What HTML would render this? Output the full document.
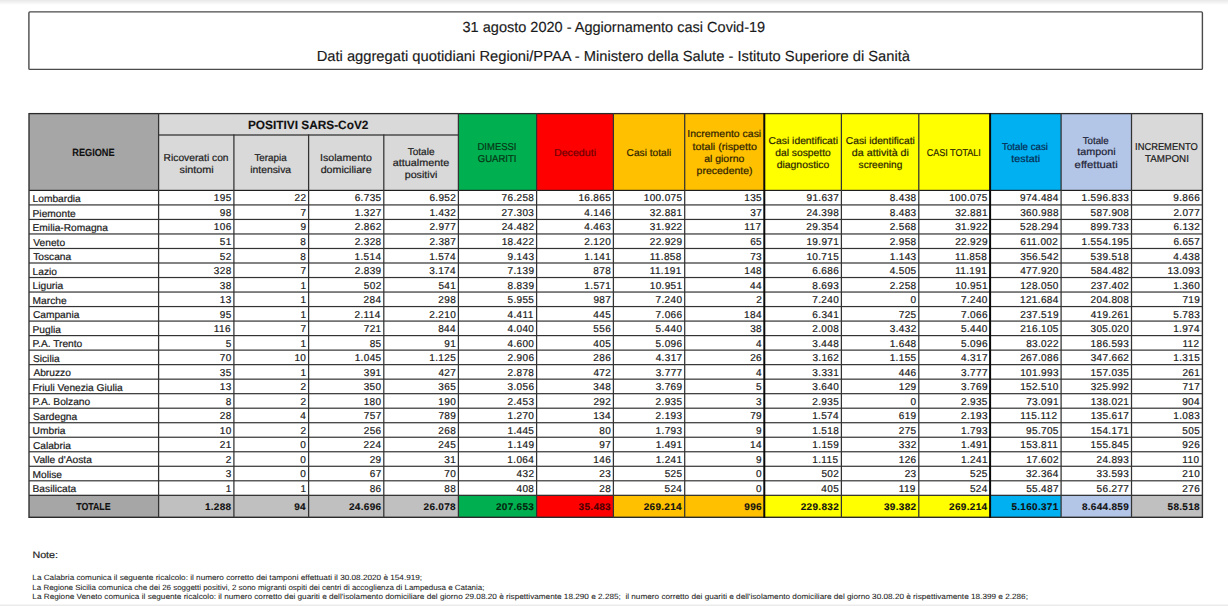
<!DOCTYPE html>
<html><head><meta charset="utf-8"><style>
html,body{margin:0;padding:0;background:#fff;}
body{width:1228px;height:606px;overflow:hidden;}
svg{display:block;font-family:"Liberation Sans",sans-serif;text-rendering:geometricPrecision;}
text{white-space:pre;}
</style></head><body>
<svg width="1228" height="606" viewBox="0 0 1228 606">
<defs><linearGradient id="tg" x1="0" y1="0" x2="0" y2="1"><stop offset="0" stop-color="#e8e8e8"/><stop offset="1" stop-color="#fff"/></linearGradient></defs>
<rect x="0" y="0" width="1228" height="606" fill="#fff"/>
<rect x="0" y="0" width="1228" height="5" fill="url(#tg)"/>
<rect x="0" y="604.5" width="1228" height="1.5" fill="#ebebeb"/>

<rect x="28.9" y="11.9" width="1173.5" height="57.5" rx="1" fill="none" stroke="#4a4a4a" stroke-width="1.4"/>
<rect x="29" y="113.6" width="130.2" height="76.8" fill="#a6a6a6"/>
<rect x="29" y="495.32" width="130.2" height="21.98" fill="#a6a6a6"/>
<rect x="158.6" y="113.6" width="75.9" height="76.8" fill="#d9d9d9"/>
<rect x="158.6" y="495.32" width="75.9" height="21.98" fill="#c0c0c0"/>
<rect x="233.9" y="113.6" width="75.3" height="76.8" fill="#d9d9d9"/>
<rect x="233.9" y="495.32" width="75.3" height="21.98" fill="#c0c0c0"/>
<rect x="308.6" y="113.6" width="75.8" height="76.8" fill="#d9d9d9"/>
<rect x="308.6" y="495.32" width="75.8" height="21.98" fill="#c0c0c0"/>
<rect x="383.8" y="113.6" width="75.2" height="76.8" fill="#d9d9d9"/>
<rect x="383.8" y="495.32" width="75.2" height="21.98" fill="#c0c0c0"/>
<rect x="458.4" y="113.6" width="78.8" height="76.8" fill="#00b050"/>
<rect x="458.4" y="495.32" width="78.8" height="21.98" fill="#00b050"/>
<rect x="536.6" y="113.6" width="77.4" height="76.8" fill="#ff0000"/>
<rect x="536.6" y="495.32" width="77.4" height="21.98" fill="#ff0000"/>
<rect x="613.4" y="113.6" width="71.9" height="76.8" fill="#ffc000"/>
<rect x="613.4" y="495.32" width="71.9" height="21.98" fill="#ffc000"/>
<rect x="684.7" y="113.6" width="80.2" height="76.8" fill="#ffc000"/>
<rect x="684.7" y="495.32" width="80.2" height="21.98" fill="#ffc000"/>
<rect x="764.3" y="113.6" width="77.7" height="76.8" fill="#ffff00"/>
<rect x="764.3" y="495.32" width="77.7" height="21.98" fill="#ffff00"/>
<rect x="841.4" y="113.6" width="78" height="76.8" fill="#ffff00"/>
<rect x="841.4" y="495.32" width="78" height="21.98" fill="#ffff00"/>
<rect x="918.8" y="113.6" width="71.9" height="76.8" fill="#ffff00"/>
<rect x="918.8" y="495.32" width="71.9" height="21.98" fill="#ffff00"/>
<rect x="990.1" y="113.6" width="71.6" height="76.8" fill="#00b0f0"/>
<rect x="990.1" y="495.32" width="71.6" height="21.98" fill="#00b0f0"/>
<rect x="1061.1" y="113.6" width="71" height="76.8" fill="#b4c6e7"/>
<rect x="1061.1" y="495.32" width="71" height="21.98" fill="#b4c6e7"/>
<rect x="1131.5" y="113.6" width="71.5" height="76.8" fill="#d9d9d9"/>
<rect x="1131.5" y="495.32" width="71.5" height="21.98" fill="#c0c0c0"/>
<text transform="translate(72.29 156.1) scale(0.9166 1.04)" font-size="10" font-weight="bold" fill="#111" stroke="#111" stroke-width="0.12">REGIONE</text>
<text transform="translate(247.91 128.9) scale(0.9873 1.0)" font-size="12" font-weight="bold" fill="#111" stroke="#111" stroke-width="0.12">POSITIVI SARS-CoV2</text>
<text transform="translate(163.56 161.2) scale(1.0260 1.0)" font-size="10" fill="#1c1c1c" stroke="#1c1c1c" stroke-width="0.2">Ricoverati con</text>
<text transform="translate(179.5 172.8) scale(1.0806 1.0)" font-size="10" fill="#1c1c1c" stroke="#1c1c1c" stroke-width="0.2">sintomi</text>
<text transform="translate(254.38 160.8) scale(0.9857 1.0)" font-size="10" fill="#1c1c1c" stroke="#1c1c1c" stroke-width="0.2">Terapia</text>
<text transform="translate(250.21 172.6) scale(1.0361 1.0)" font-size="10" fill="#1c1c1c" stroke="#1c1c1c" stroke-width="0.2">intensiva</text>
<text transform="translate(320.12 160.8) scale(1.0594 1.0)" font-size="10" fill="#1c1c1c" stroke="#1c1c1c" stroke-width="0.2">Isolamento</text>
<text transform="translate(320.65 172.6) scale(1.0654 1.0)" font-size="10" fill="#1c1c1c" stroke="#1c1c1c" stroke-width="0.2">domiciliare</text>
<text transform="translate(407.67 154.6) scale(1.0065 1.0)" font-size="10" fill="#1c1c1c" stroke="#1c1c1c" stroke-width="0.2">Totale</text>
<text transform="translate(392.84 166.4) scale(1.0800 1.0)" font-size="10" fill="#1c1c1c" stroke="#1c1c1c" stroke-width="0.2">attualmente</text>
<text transform="translate(404.71 177.6) scale(1.0702 1.0)" font-size="10" fill="#1c1c1c" stroke="#1c1c1c" stroke-width="0.2">positivi</text>
<text transform="translate(477.52 150.3) scale(0.9473 1.0)" font-size="10" fill="#083515" stroke="#083515" stroke-width="0.2">DIMESSI</text>
<text transform="translate(477.82 161.8) scale(0.9532 1.0)" font-size="10" fill="#083515" stroke="#083515" stroke-width="0.2">GUARITI</text>
<text transform="translate(553.93 156) scale(1.0665 1.0)" font-size="10" fill="#6e0000" stroke="#6e0000" stroke-width="0.2">Deceduti</text>
<text transform="translate(626.58 156) scale(1.0158 1.0)" font-size="10" fill="#2e2300" stroke="#2e2300" stroke-width="0.2">Casi totali</text>
<text transform="translate(687.33 137.3) scale(1.0465 1.0)" font-size="10" fill="#2e2300" stroke="#2e2300" stroke-width="0.2">Incremento casi</text>
<text transform="translate(692.54 149.9) scale(1.0731 1.0)" font-size="10" fill="#2e2300" stroke="#2e2300" stroke-width="0.2">totali (rispetto</text>
<text transform="translate(704.15 161.9) scale(1.0476 1.0)" font-size="10" fill="#2e2300" stroke="#2e2300" stroke-width="0.2">al giorno</text>
<text transform="translate(696.62 173.9) scale(1.0479 1.0)" font-size="10" fill="#2e2300" stroke="#2e2300" stroke-width="0.2">precedente)</text>
<text transform="translate(768.58 143.9) scale(1.0322 1.0)" font-size="10" fill="#2b2600" stroke="#2b2600" stroke-width="0.2">Casi identificati</text>
<text transform="translate(775.27 155.9) scale(1.0285 1.0)" font-size="10" fill="#2b2600" stroke="#2b2600" stroke-width="0.2">dal sospetto</text>
<text transform="translate(776.66 167.9) scale(1.0412 1.0)" font-size="10" fill="#2b2600" stroke="#2b2600" stroke-width="0.2">diagnostico</text>
<text transform="translate(845.78 143.9) scale(1.0262 1.0)" font-size="10" fill="#2b2600" stroke="#2b2600" stroke-width="0.2">Casi identificati</text>
<text transform="translate(851.85 155.9) scale(1.0694 1.0)" font-size="10" fill="#2b2600" stroke="#2b2600" stroke-width="0.2">da attività di</text>
<text transform="translate(858.62 167.9) scale(1.0062 1.0)" font-size="10" fill="#2b2600" stroke="#2b2600" stroke-width="0.2">screening</text>
<text transform="translate(926.74 156.1) scale(0.9013 1.0)" font-size="10" fill="#2b2600" stroke="#2b2600" stroke-width="0.2">CASI TOTALI</text>
<text transform="translate(1002.08 149.6) scale(0.9714 1.0)" font-size="10" fill="#072c52" stroke="#072c52" stroke-width="0.2">Totale casi</text>
<text transform="translate(1011.34 161.6) scale(1.0752 1.0)" font-size="10" fill="#072c52" stroke="#072c52" stroke-width="0.2">testati</text>
<text transform="translate(1082.68 143.8) scale(0.9733 1.0)" font-size="10" fill="#1c2236" stroke="#1c2236" stroke-width="0.2">Totale</text>
<text transform="translate(1077.24 155.1) scale(1.0762 1.0)" font-size="10" fill="#1c2236" stroke="#1c2236" stroke-width="0.2">tamponi</text>
<text transform="translate(1074.62 167.6) scale(1.1299 1.0)" font-size="10" fill="#1c2236" stroke="#1c2236" stroke-width="0.2">effettuati</text>
<text transform="translate(1135.04 150.1) scale(0.9344 1.0)" font-size="10" fill="#1a1a1a" stroke="#1a1a1a" stroke-width="0.2">INCREMENTO</text>
<text transform="translate(1145.08 161.9) scale(0.9773 1.0)" font-size="10" fill="#1a1a1a" stroke="#1a1a1a" stroke-width="0.2">TAMPONI</text>
<text transform="translate(76.2 510.2) scale(0.8812 1.02)" font-size="10" font-weight="bold" fill="#111" stroke="#111" stroke-width="0.12">TOTALE</text>
<text transform="translate(462.55 32.4) scale(0.9947 1.0)" font-size="14.6" fill="#1a1a1a" stroke="#1a1a1a" stroke-width="0.15">31 agosto 2020 - Aggiornamento casi Covid-19</text>
<text transform="translate(316.69 60.7) scale(1.0078 1.0)" font-size="14.6" fill="#1a1a1a" stroke="#1a1a1a" stroke-width="0.15">Dati aggregati quotidiani Regioni/PPAA - Ministero della Salute - Istituto Superiore di Sanità</text>
<text transform="translate(32.42 558) scale(1.0182 0.9)" font-size="10.5" fill="#262626" stroke="#262626" stroke-width="0.2">Note:</text>
<text transform="translate(32.33 579.9) scale(1.0231 0.95)" font-size="8" fill="#262626" stroke="#262626" stroke-width="0.08">La Calabria comunica il seguente ricalcolo: il numero corretto dei tamponi effettuati il 30.08.2020 è 154.919;</text>
<text transform="translate(32.35 589.6) scale(0.9927 0.95)" font-size="8" fill="#262626" stroke="#262626" stroke-width="0.08">La Regione Sicilia comunica che dei 26 soggetti positivi, 2 sono migranti ospiti dei centri di accoglienza di Lampedusa e Catania;</text>
<text transform="translate(32.33 598.7) scale(1.0247 0.95)" font-size="8" fill="#262626" stroke="#262626" stroke-width="0.08">La Regione Veneto comunica il seguente ricalcolo: il numero corretto dei guariti e dell&#39;isolamento domiciliare del giorno 29.08.20 è rispettivamente 18.290 e 2.285;  il numero corretto dei guariti e dell&#39;isolamento domiciliare del giorno 30.08.20 è rispettivamente 18.399 e 2.286;</text>
<text transform="translate(32.56 202) scale(1.02 1.0)" font-size="10" fill="#1a1a1a" stroke="#1a1a1a" stroke-width="0.2">Lombardia</text>
<text transform="translate(213.84 201.45) scale(1.0 1.0)" font-size="10" letter-spacing="0.35" fill="#1a1a1a" stroke="#1a1a1a" stroke-width="0.2">195</text>
<text transform="translate(294.53 201.45) scale(1.0 1.0)" font-size="10" letter-spacing="0.35" fill="#1a1a1a" stroke="#1a1a1a" stroke-width="0.2">22</text>
<text transform="translate(354.7 201.45) scale(1.0 1.0)" font-size="10" letter-spacing="0.35" fill="#1a1a1a" stroke="#1a1a1a" stroke-width="0.2">6.735</text>
<text transform="translate(429.38 201.45) scale(1.0 1.0)" font-size="10" letter-spacing="0.35" fill="#1a1a1a" stroke="#1a1a1a" stroke-width="0.2">6.952</text>
<text transform="translate(501.6 201.45) scale(1.0 1.0)" font-size="10" letter-spacing="0.35" fill="#1a1a1a" stroke="#1a1a1a" stroke-width="0.2">76.258</text>
<text transform="translate(578.38 201.45) scale(1.0 1.0)" font-size="10" letter-spacing="0.35" fill="#1a1a1a" stroke="#1a1a1a" stroke-width="0.2">16.865</text>
<text transform="translate(643.77 201.45) scale(1.0 1.0)" font-size="10" letter-spacing="0.35" fill="#1a1a1a" stroke="#1a1a1a" stroke-width="0.2">100.075</text>
<text transform="translate(744.24 201.45) scale(1.0 1.0)" font-size="10" letter-spacing="0.35" fill="#1a1a1a" stroke="#1a1a1a" stroke-width="0.2">135</text>
<text transform="translate(806.47 201.45) scale(1.0 1.0)" font-size="10" letter-spacing="0.35" fill="#1a1a1a" stroke="#1a1a1a" stroke-width="0.2">91.637</text>
<text transform="translate(889.71 201.45) scale(1.0 1.0)" font-size="10" letter-spacing="0.35" fill="#1a1a1a" stroke="#1a1a1a" stroke-width="0.2">8.438</text>
<text transform="translate(949.17 201.45) scale(1.0 1.0)" font-size="10" letter-spacing="0.35" fill="#1a1a1a" stroke="#1a1a1a" stroke-width="0.2">100.075</text>
<text transform="translate(1020.05 201.45) scale(1.0 1.0)" font-size="10" letter-spacing="0.35" fill="#1a1a1a" stroke="#1a1a1a" stroke-width="0.2">974.484</text>
<text transform="translate(1081.55 201.45) scale(1.0 1.0)" font-size="10" letter-spacing="0.35" fill="#1a1a1a" stroke="#1a1a1a" stroke-width="0.2">1.596.833</text>
<text transform="translate(1173.32 201.45) scale(1.0 1.0)" font-size="10" letter-spacing="0.35" fill="#1a1a1a" stroke="#1a1a1a" stroke-width="0.2">9.866</text>
<text transform="translate(32.56 216.52) scale(1.02 1.0)" font-size="10" fill="#1a1a1a" stroke="#1a1a1a" stroke-width="0.2">Piemonte</text>
<text transform="translate(219.76 215.97) scale(1.0 1.0)" font-size="10" letter-spacing="0.35" fill="#1a1a1a" stroke="#1a1a1a" stroke-width="0.2">98</text>
<text transform="translate(300.44 215.97) scale(1.0 1.0)" font-size="10" letter-spacing="0.35" fill="#1a1a1a" stroke="#1a1a1a" stroke-width="0.2">7</text>
<text transform="translate(354.78 215.97) scale(1.0 1.0)" font-size="10" letter-spacing="0.35" fill="#1a1a1a" stroke="#1a1a1a" stroke-width="0.2">1.327</text>
<text transform="translate(429.38 215.97) scale(1.0 1.0)" font-size="10" letter-spacing="0.35" fill="#1a1a1a" stroke="#1a1a1a" stroke-width="0.2">1.432</text>
<text transform="translate(501.6 215.97) scale(1.0 1.0)" font-size="10" letter-spacing="0.35" fill="#1a1a1a" stroke="#1a1a1a" stroke-width="0.2">27.303</text>
<text transform="translate(584.32 215.97) scale(1.0 1.0)" font-size="10" letter-spacing="0.35" fill="#1a1a1a" stroke="#1a1a1a" stroke-width="0.2">4.146</text>
<text transform="translate(649.75 215.97) scale(1.0 1.0)" font-size="10" letter-spacing="0.35" fill="#1a1a1a" stroke="#1a1a1a" stroke-width="0.2">32.881</text>
<text transform="translate(750.23 215.97) scale(1.0 1.0)" font-size="10" letter-spacing="0.35" fill="#1a1a1a" stroke="#1a1a1a" stroke-width="0.2">37</text>
<text transform="translate(806.4 215.97) scale(1.0 1.0)" font-size="10" letter-spacing="0.35" fill="#1a1a1a" stroke="#1a1a1a" stroke-width="0.2">24.398</text>
<text transform="translate(889.72 215.97) scale(1.0 1.0)" font-size="10" letter-spacing="0.35" fill="#1a1a1a" stroke="#1a1a1a" stroke-width="0.2">8.483</text>
<text transform="translate(955.15 215.97) scale(1.0 1.0)" font-size="10" letter-spacing="0.35" fill="#1a1a1a" stroke="#1a1a1a" stroke-width="0.2">32.881</text>
<text transform="translate(1020.19 215.97) scale(1.0 1.0)" font-size="10" letter-spacing="0.35" fill="#1a1a1a" stroke="#1a1a1a" stroke-width="0.2">360.988</text>
<text transform="translate(1090.59 215.97) scale(1.0 1.0)" font-size="10" letter-spacing="0.35" fill="#1a1a1a" stroke="#1a1a1a" stroke-width="0.2">587.908</text>
<text transform="translate(1173.38 215.97) scale(1.0 1.0)" font-size="10" letter-spacing="0.35" fill="#1a1a1a" stroke="#1a1a1a" stroke-width="0.2">2.077</text>
<text transform="translate(32.56 231.04) scale(1.02 1.0)" font-size="10" fill="#1a1a1a" stroke="#1a1a1a" stroke-width="0.2">Emilia-Romagna</text>
<text transform="translate(213.85 230.49) scale(1.0 1.0)" font-size="10" letter-spacing="0.35" fill="#1a1a1a" stroke="#1a1a1a" stroke-width="0.2">106</text>
<text transform="translate(300.41 230.49) scale(1.0 1.0)" font-size="10" letter-spacing="0.35" fill="#1a1a1a" stroke="#1a1a1a" stroke-width="0.2">9</text>
<text transform="translate(354.78 230.49) scale(1.0 1.0)" font-size="10" letter-spacing="0.35" fill="#1a1a1a" stroke="#1a1a1a" stroke-width="0.2">2.862</text>
<text transform="translate(429.38 230.49) scale(1.0 1.0)" font-size="10" letter-spacing="0.35" fill="#1a1a1a" stroke="#1a1a1a" stroke-width="0.2">2.977</text>
<text transform="translate(501.67 230.49) scale(1.0 1.0)" font-size="10" letter-spacing="0.35" fill="#1a1a1a" stroke="#1a1a1a" stroke-width="0.2">24.482</text>
<text transform="translate(584.32 230.49) scale(1.0 1.0)" font-size="10" letter-spacing="0.35" fill="#1a1a1a" stroke="#1a1a1a" stroke-width="0.2">4.463</text>
<text transform="translate(649.77 230.49) scale(1.0 1.0)" font-size="10" letter-spacing="0.35" fill="#1a1a1a" stroke="#1a1a1a" stroke-width="0.2">31.922</text>
<text transform="translate(744.32 230.49) scale(1.0 1.0)" font-size="10" letter-spacing="0.35" fill="#1a1a1a" stroke="#1a1a1a" stroke-width="0.2">117</text>
<text transform="translate(806.26 230.49) scale(1.0 1.0)" font-size="10" letter-spacing="0.35" fill="#1a1a1a" stroke="#1a1a1a" stroke-width="0.2">29.354</text>
<text transform="translate(889.71 230.49) scale(1.0 1.0)" font-size="10" letter-spacing="0.35" fill="#1a1a1a" stroke="#1a1a1a" stroke-width="0.2">2.568</text>
<text transform="translate(955.17 230.49) scale(1.0 1.0)" font-size="10" letter-spacing="0.35" fill="#1a1a1a" stroke="#1a1a1a" stroke-width="0.2">31.922</text>
<text transform="translate(1020.05 230.49) scale(1.0 1.0)" font-size="10" letter-spacing="0.35" fill="#1a1a1a" stroke="#1a1a1a" stroke-width="0.2">528.294</text>
<text transform="translate(1090.59 230.49) scale(1.0 1.0)" font-size="10" letter-spacing="0.35" fill="#1a1a1a" stroke="#1a1a1a" stroke-width="0.2">899.733</text>
<text transform="translate(1173.38 230.49) scale(1.0 1.0)" font-size="10" letter-spacing="0.35" fill="#1a1a1a" stroke="#1a1a1a" stroke-width="0.2">6.132</text>
<text transform="translate(33.36 245.56) scale(1.02 1.0)" font-size="10" fill="#1a1a1a" stroke="#1a1a1a" stroke-width="0.2">Veneto</text>
<text transform="translate(219.82 245.01) scale(1.0 1.0)" font-size="10" letter-spacing="0.35" fill="#1a1a1a" stroke="#1a1a1a" stroke-width="0.2">51</text>
<text transform="translate(300.37 245.01) scale(1.0 1.0)" font-size="10" letter-spacing="0.35" fill="#1a1a1a" stroke="#1a1a1a" stroke-width="0.2">8</text>
<text transform="translate(354.71 245.01) scale(1.0 1.0)" font-size="10" letter-spacing="0.35" fill="#1a1a1a" stroke="#1a1a1a" stroke-width="0.2">2.328</text>
<text transform="translate(429.38 245.01) scale(1.0 1.0)" font-size="10" letter-spacing="0.35" fill="#1a1a1a" stroke="#1a1a1a" stroke-width="0.2">2.387</text>
<text transform="translate(501.67 245.01) scale(1.0 1.0)" font-size="10" letter-spacing="0.35" fill="#1a1a1a" stroke="#1a1a1a" stroke-width="0.2">18.422</text>
<text transform="translate(584.27 245.01) scale(1.0 1.0)" font-size="10" letter-spacing="0.35" fill="#1a1a1a" stroke="#1a1a1a" stroke-width="0.2">2.120</text>
<text transform="translate(649.74 245.01) scale(1.0 1.0)" font-size="10" letter-spacing="0.35" fill="#1a1a1a" stroke="#1a1a1a" stroke-width="0.2">22.929</text>
<text transform="translate(750.15 245.01) scale(1.0 1.0)" font-size="10" letter-spacing="0.35" fill="#1a1a1a" stroke="#1a1a1a" stroke-width="0.2">65</text>
<text transform="translate(806.45 245.01) scale(1.0 1.0)" font-size="10" letter-spacing="0.35" fill="#1a1a1a" stroke="#1a1a1a" stroke-width="0.2">19.971</text>
<text transform="translate(889.71 245.01) scale(1.0 1.0)" font-size="10" letter-spacing="0.35" fill="#1a1a1a" stroke="#1a1a1a" stroke-width="0.2">2.958</text>
<text transform="translate(955.14 245.01) scale(1.0 1.0)" font-size="10" letter-spacing="0.35" fill="#1a1a1a" stroke="#1a1a1a" stroke-width="0.2">22.929</text>
<text transform="translate(1020.26 245.01) scale(1.0 1.0)" font-size="10" letter-spacing="0.35" fill="#1a1a1a" stroke="#1a1a1a" stroke-width="0.2">611.002</text>
<text transform="translate(1081.53 245.01) scale(1.0 1.0)" font-size="10" letter-spacing="0.35" fill="#1a1a1a" stroke="#1a1a1a" stroke-width="0.2">1.554.195</text>
<text transform="translate(1173.38 245.01) scale(1.0 1.0)" font-size="10" letter-spacing="0.35" fill="#1a1a1a" stroke="#1a1a1a" stroke-width="0.2">6.657</text>
<text transform="translate(33.17 260.08) scale(1.02 1.0)" font-size="10" fill="#1a1a1a" stroke="#1a1a1a" stroke-width="0.2">Toscana</text>
<text transform="translate(219.83 259.53) scale(1.0 1.0)" font-size="10" letter-spacing="0.35" fill="#1a1a1a" stroke="#1a1a1a" stroke-width="0.2">52</text>
<text transform="translate(300.37 259.53) scale(1.0 1.0)" font-size="10" letter-spacing="0.35" fill="#1a1a1a" stroke="#1a1a1a" stroke-width="0.2">8</text>
<text transform="translate(354.57 259.53) scale(1.0 1.0)" font-size="10" letter-spacing="0.35" fill="#1a1a1a" stroke="#1a1a1a" stroke-width="0.2">1.514</text>
<text transform="translate(429.17 259.53) scale(1.0 1.0)" font-size="10" letter-spacing="0.35" fill="#1a1a1a" stroke="#1a1a1a" stroke-width="0.2">1.574</text>
<text transform="translate(507.52 259.53) scale(1.0 1.0)" font-size="10" letter-spacing="0.35" fill="#1a1a1a" stroke="#1a1a1a" stroke-width="0.2">9.143</text>
<text transform="translate(584.36 259.53) scale(1.0 1.0)" font-size="10" letter-spacing="0.35" fill="#1a1a1a" stroke="#1a1a1a" stroke-width="0.2">1.141</text>
<text transform="translate(649.7 259.53) scale(1.0 1.0)" font-size="10" letter-spacing="0.35" fill="#1a1a1a" stroke="#1a1a1a" stroke-width="0.2">11.858</text>
<text transform="translate(750.17 259.53) scale(1.0 1.0)" font-size="10" letter-spacing="0.35" fill="#1a1a1a" stroke="#1a1a1a" stroke-width="0.2">73</text>
<text transform="translate(806.38 259.53) scale(1.0 1.0)" font-size="10" letter-spacing="0.35" fill="#1a1a1a" stroke="#1a1a1a" stroke-width="0.2">10.715</text>
<text transform="translate(889.72 259.53) scale(1.0 1.0)" font-size="10" letter-spacing="0.35" fill="#1a1a1a" stroke="#1a1a1a" stroke-width="0.2">1.143</text>
<text transform="translate(955.1 259.53) scale(1.0 1.0)" font-size="10" letter-spacing="0.35" fill="#1a1a1a" stroke="#1a1a1a" stroke-width="0.2">11.858</text>
<text transform="translate(1020.26 259.53) scale(1.0 1.0)" font-size="10" letter-spacing="0.35" fill="#1a1a1a" stroke="#1a1a1a" stroke-width="0.2">356.542</text>
<text transform="translate(1090.59 259.53) scale(1.0 1.0)" font-size="10" letter-spacing="0.35" fill="#1a1a1a" stroke="#1a1a1a" stroke-width="0.2">539.518</text>
<text transform="translate(1173.31 259.53) scale(1.0 1.0)" font-size="10" letter-spacing="0.35" fill="#1a1a1a" stroke="#1a1a1a" stroke-width="0.2">4.438</text>
<text transform="translate(32.56 274.6) scale(1.02 1.0)" font-size="10" fill="#1a1a1a" stroke="#1a1a1a" stroke-width="0.2">Lazio</text>
<text transform="translate(213.85 274.05) scale(1.0 1.0)" font-size="10" letter-spacing="0.35" fill="#1a1a1a" stroke="#1a1a1a" stroke-width="0.2">328</text>
<text transform="translate(300.44 274.05) scale(1.0 1.0)" font-size="10" letter-spacing="0.35" fill="#1a1a1a" stroke="#1a1a1a" stroke-width="0.2">7</text>
<text transform="translate(354.75 274.05) scale(1.0 1.0)" font-size="10" letter-spacing="0.35" fill="#1a1a1a" stroke="#1a1a1a" stroke-width="0.2">2.839</text>
<text transform="translate(429.17 274.05) scale(1.0 1.0)" font-size="10" letter-spacing="0.35" fill="#1a1a1a" stroke="#1a1a1a" stroke-width="0.2">3.174</text>
<text transform="translate(507.55 274.05) scale(1.0 1.0)" font-size="10" letter-spacing="0.35" fill="#1a1a1a" stroke="#1a1a1a" stroke-width="0.2">7.139</text>
<text transform="translate(593.35 274.05) scale(1.0 1.0)" font-size="10" letter-spacing="0.35" fill="#1a1a1a" stroke="#1a1a1a" stroke-width="0.2">878</text>
<text transform="translate(649.75 274.05) scale(1.0 1.0)" font-size="10" letter-spacing="0.35" fill="#1a1a1a" stroke="#1a1a1a" stroke-width="0.2">11.191</text>
<text transform="translate(744.25 274.05) scale(1.0 1.0)" font-size="10" letter-spacing="0.35" fill="#1a1a1a" stroke="#1a1a1a" stroke-width="0.2">148</text>
<text transform="translate(812.32 274.05) scale(1.0 1.0)" font-size="10" letter-spacing="0.35" fill="#1a1a1a" stroke="#1a1a1a" stroke-width="0.2">6.686</text>
<text transform="translate(889.7 274.05) scale(1.0 1.0)" font-size="10" letter-spacing="0.35" fill="#1a1a1a" stroke="#1a1a1a" stroke-width="0.2">4.505</text>
<text transform="translate(955.15 274.05) scale(1.0 1.0)" font-size="10" letter-spacing="0.35" fill="#1a1a1a" stroke="#1a1a1a" stroke-width="0.2">11.191</text>
<text transform="translate(1020.14 274.05) scale(1.0 1.0)" font-size="10" letter-spacing="0.35" fill="#1a1a1a" stroke="#1a1a1a" stroke-width="0.2">477.920</text>
<text transform="translate(1090.66 274.05) scale(1.0 1.0)" font-size="10" letter-spacing="0.35" fill="#1a1a1a" stroke="#1a1a1a" stroke-width="0.2">584.482</text>
<text transform="translate(1167.4 274.05) scale(1.0 1.0)" font-size="10" letter-spacing="0.35" fill="#1a1a1a" stroke="#1a1a1a" stroke-width="0.2">13.093</text>
<text transform="translate(32.56 289.12) scale(1.02 1.0)" font-size="10" fill="#1a1a1a" stroke="#1a1a1a" stroke-width="0.2">Liguria</text>
<text transform="translate(219.76 288.57) scale(1.0 1.0)" font-size="10" letter-spacing="0.35" fill="#1a1a1a" stroke="#1a1a1a" stroke-width="0.2">38</text>
<text transform="translate(300.43 288.57) scale(1.0 1.0)" font-size="10" letter-spacing="0.35" fill="#1a1a1a" stroke="#1a1a1a" stroke-width="0.2">1</text>
<text transform="translate(363.82 288.57) scale(1.0 1.0)" font-size="10" letter-spacing="0.35" fill="#1a1a1a" stroke="#1a1a1a" stroke-width="0.2">502</text>
<text transform="translate(438.4 288.57) scale(1.0 1.0)" font-size="10" letter-spacing="0.35" fill="#1a1a1a" stroke="#1a1a1a" stroke-width="0.2">541</text>
<text transform="translate(507.55 288.57) scale(1.0 1.0)" font-size="10" letter-spacing="0.35" fill="#1a1a1a" stroke="#1a1a1a" stroke-width="0.2">8.839</text>
<text transform="translate(584.36 288.57) scale(1.0 1.0)" font-size="10" letter-spacing="0.35" fill="#1a1a1a" stroke="#1a1a1a" stroke-width="0.2">1.571</text>
<text transform="translate(649.75 288.57) scale(1.0 1.0)" font-size="10" letter-spacing="0.35" fill="#1a1a1a" stroke="#1a1a1a" stroke-width="0.2">10.951</text>
<text transform="translate(750.02 288.57) scale(1.0 1.0)" font-size="10" letter-spacing="0.35" fill="#1a1a1a" stroke="#1a1a1a" stroke-width="0.2">44</text>
<text transform="translate(812.32 288.57) scale(1.0 1.0)" font-size="10" letter-spacing="0.35" fill="#1a1a1a" stroke="#1a1a1a" stroke-width="0.2">8.693</text>
<text transform="translate(889.71 288.57) scale(1.0 1.0)" font-size="10" letter-spacing="0.35" fill="#1a1a1a" stroke="#1a1a1a" stroke-width="0.2">2.258</text>
<text transform="translate(955.15 288.57) scale(1.0 1.0)" font-size="10" letter-spacing="0.35" fill="#1a1a1a" stroke="#1a1a1a" stroke-width="0.2">10.951</text>
<text transform="translate(1020.14 288.57) scale(1.0 1.0)" font-size="10" letter-spacing="0.35" fill="#1a1a1a" stroke="#1a1a1a" stroke-width="0.2">128.050</text>
<text transform="translate(1090.66 288.57) scale(1.0 1.0)" font-size="10" letter-spacing="0.35" fill="#1a1a1a" stroke="#1a1a1a" stroke-width="0.2">237.402</text>
<text transform="translate(1173.27 288.57) scale(1.0 1.0)" font-size="10" letter-spacing="0.35" fill="#1a1a1a" stroke="#1a1a1a" stroke-width="0.2">1.360</text>
<text transform="translate(32.56 303.64) scale(1.02 1.0)" font-size="10" fill="#1a1a1a" stroke="#1a1a1a" stroke-width="0.2">Marche</text>
<text transform="translate(219.77 303.09) scale(1.0 1.0)" font-size="10" letter-spacing="0.35" fill="#1a1a1a" stroke="#1a1a1a" stroke-width="0.2">13</text>
<text transform="translate(300.43 303.09) scale(1.0 1.0)" font-size="10" letter-spacing="0.35" fill="#1a1a1a" stroke="#1a1a1a" stroke-width="0.2">1</text>
<text transform="translate(363.61 303.09) scale(1.0 1.0)" font-size="10" letter-spacing="0.35" fill="#1a1a1a" stroke="#1a1a1a" stroke-width="0.2">284</text>
<text transform="translate(438.35 303.09) scale(1.0 1.0)" font-size="10" letter-spacing="0.35" fill="#1a1a1a" stroke="#1a1a1a" stroke-width="0.2">298</text>
<text transform="translate(507.5 303.09) scale(1.0 1.0)" font-size="10" letter-spacing="0.35" fill="#1a1a1a" stroke="#1a1a1a" stroke-width="0.2">5.955</text>
<text transform="translate(593.42 303.09) scale(1.0 1.0)" font-size="10" letter-spacing="0.35" fill="#1a1a1a" stroke="#1a1a1a" stroke-width="0.2">987</text>
<text transform="translate(655.57 303.09) scale(1.0 1.0)" font-size="10" letter-spacing="0.35" fill="#1a1a1a" stroke="#1a1a1a" stroke-width="0.2">7.240</text>
<text transform="translate(756.14 303.09) scale(1.0 1.0)" font-size="10" letter-spacing="0.35" fill="#1a1a1a" stroke="#1a1a1a" stroke-width="0.2">2</text>
<text transform="translate(812.27 303.09) scale(1.0 1.0)" font-size="10" letter-spacing="0.35" fill="#1a1a1a" stroke="#1a1a1a" stroke-width="0.2">7.240</text>
<text transform="translate(910.53 303.09) scale(1.0 1.0)" font-size="10" letter-spacing="0.35" fill="#1a1a1a" stroke="#1a1a1a" stroke-width="0.2">0</text>
<text transform="translate(960.97 303.09) scale(1.0 1.0)" font-size="10" letter-spacing="0.35" fill="#1a1a1a" stroke="#1a1a1a" stroke-width="0.2">7.240</text>
<text transform="translate(1020.05 303.09) scale(1.0 1.0)" font-size="10" letter-spacing="0.35" fill="#1a1a1a" stroke="#1a1a1a" stroke-width="0.2">121.684</text>
<text transform="translate(1090.59 303.09) scale(1.0 1.0)" font-size="10" letter-spacing="0.35" fill="#1a1a1a" stroke="#1a1a1a" stroke-width="0.2">204.808</text>
<text transform="translate(1182.39 303.09) scale(1.0 1.0)" font-size="10" letter-spacing="0.35" fill="#1a1a1a" stroke="#1a1a1a" stroke-width="0.2">719</text>
<text transform="translate(32.88 318.16) scale(1.02 1.0)" font-size="10" fill="#1a1a1a" stroke="#1a1a1a" stroke-width="0.2">Campania</text>
<text transform="translate(219.75 317.61) scale(1.0 1.0)" font-size="10" letter-spacing="0.35" fill="#1a1a1a" stroke="#1a1a1a" stroke-width="0.2">95</text>
<text transform="translate(300.43 317.61) scale(1.0 1.0)" font-size="10" letter-spacing="0.35" fill="#1a1a1a" stroke="#1a1a1a" stroke-width="0.2">1</text>
<text transform="translate(354.57 317.61) scale(1.0 1.0)" font-size="10" letter-spacing="0.35" fill="#1a1a1a" stroke="#1a1a1a" stroke-width="0.2">2.114</text>
<text transform="translate(429.27 317.61) scale(1.0 1.0)" font-size="10" letter-spacing="0.35" fill="#1a1a1a" stroke="#1a1a1a" stroke-width="0.2">2.210</text>
<text transform="translate(507.56 317.61) scale(1.0 1.0)" font-size="10" letter-spacing="0.35" fill="#1a1a1a" stroke="#1a1a1a" stroke-width="0.2">4.411</text>
<text transform="translate(593.34 317.61) scale(1.0 1.0)" font-size="10" letter-spacing="0.35" fill="#1a1a1a" stroke="#1a1a1a" stroke-width="0.2">445</text>
<text transform="translate(655.62 317.61) scale(1.0 1.0)" font-size="10" letter-spacing="0.35" fill="#1a1a1a" stroke="#1a1a1a" stroke-width="0.2">7.066</text>
<text transform="translate(744.11 317.61) scale(1.0 1.0)" font-size="10" letter-spacing="0.35" fill="#1a1a1a" stroke="#1a1a1a" stroke-width="0.2">184</text>
<text transform="translate(812.36 317.61) scale(1.0 1.0)" font-size="10" letter-spacing="0.35" fill="#1a1a1a" stroke="#1a1a1a" stroke-width="0.2">6.341</text>
<text transform="translate(898.74 317.61) scale(1.0 1.0)" font-size="10" letter-spacing="0.35" fill="#1a1a1a" stroke="#1a1a1a" stroke-width="0.2">725</text>
<text transform="translate(961.02 317.61) scale(1.0 1.0)" font-size="10" letter-spacing="0.35" fill="#1a1a1a" stroke="#1a1a1a" stroke-width="0.2">7.066</text>
<text transform="translate(1020.23 317.61) scale(1.0 1.0)" font-size="10" letter-spacing="0.35" fill="#1a1a1a" stroke="#1a1a1a" stroke-width="0.2">237.519</text>
<text transform="translate(1090.64 317.61) scale(1.0 1.0)" font-size="10" letter-spacing="0.35" fill="#1a1a1a" stroke="#1a1a1a" stroke-width="0.2">419.261</text>
<text transform="translate(1173.32 317.61) scale(1.0 1.0)" font-size="10" letter-spacing="0.35" fill="#1a1a1a" stroke="#1a1a1a" stroke-width="0.2">5.783</text>
<text transform="translate(32.56 332.68) scale(1.02 1.0)" font-size="10" fill="#1a1a1a" stroke="#1a1a1a" stroke-width="0.2">Puglia</text>
<text transform="translate(213.85 332.13) scale(1.0 1.0)" font-size="10" letter-spacing="0.35" fill="#1a1a1a" stroke="#1a1a1a" stroke-width="0.2">116</text>
<text transform="translate(300.44 332.13) scale(1.0 1.0)" font-size="10" letter-spacing="0.35" fill="#1a1a1a" stroke="#1a1a1a" stroke-width="0.2">7</text>
<text transform="translate(363.8 332.13) scale(1.0 1.0)" font-size="10" letter-spacing="0.35" fill="#1a1a1a" stroke="#1a1a1a" stroke-width="0.2">721</text>
<text transform="translate(438.21 332.13) scale(1.0 1.0)" font-size="10" letter-spacing="0.35" fill="#1a1a1a" stroke="#1a1a1a" stroke-width="0.2">844</text>
<text transform="translate(507.47 332.13) scale(1.0 1.0)" font-size="10" letter-spacing="0.35" fill="#1a1a1a" stroke="#1a1a1a" stroke-width="0.2">4.040</text>
<text transform="translate(593.35 332.13) scale(1.0 1.0)" font-size="10" letter-spacing="0.35" fill="#1a1a1a" stroke="#1a1a1a" stroke-width="0.2">556</text>
<text transform="translate(655.57 332.13) scale(1.0 1.0)" font-size="10" letter-spacing="0.35" fill="#1a1a1a" stroke="#1a1a1a" stroke-width="0.2">5.440</text>
<text transform="translate(750.16 332.13) scale(1.0 1.0)" font-size="10" letter-spacing="0.35" fill="#1a1a1a" stroke="#1a1a1a" stroke-width="0.2">38</text>
<text transform="translate(812.31 332.13) scale(1.0 1.0)" font-size="10" letter-spacing="0.35" fill="#1a1a1a" stroke="#1a1a1a" stroke-width="0.2">2.008</text>
<text transform="translate(889.78 332.13) scale(1.0 1.0)" font-size="10" letter-spacing="0.35" fill="#1a1a1a" stroke="#1a1a1a" stroke-width="0.2">3.432</text>
<text transform="translate(960.97 332.13) scale(1.0 1.0)" font-size="10" letter-spacing="0.35" fill="#1a1a1a" stroke="#1a1a1a" stroke-width="0.2">5.440</text>
<text transform="translate(1020.17 332.13) scale(1.0 1.0)" font-size="10" letter-spacing="0.35" fill="#1a1a1a" stroke="#1a1a1a" stroke-width="0.2">216.105</text>
<text transform="translate(1090.54 332.13) scale(1.0 1.0)" font-size="10" letter-spacing="0.35" fill="#1a1a1a" stroke="#1a1a1a" stroke-width="0.2">305.020</text>
<text transform="translate(1173.17 332.13) scale(1.0 1.0)" font-size="10" letter-spacing="0.35" fill="#1a1a1a" stroke="#1a1a1a" stroke-width="0.2">1.974</text>
<text transform="translate(32.56 347.2) scale(1.02 1.0)" font-size="10" fill="#1a1a1a" stroke="#1a1a1a" stroke-width="0.2">P.A. Trento</text>
<text transform="translate(225.66 346.65) scale(1.0 1.0)" font-size="10" letter-spacing="0.35" fill="#1a1a1a" stroke="#1a1a1a" stroke-width="0.2">5</text>
<text transform="translate(300.43 346.65) scale(1.0 1.0)" font-size="10" letter-spacing="0.35" fill="#1a1a1a" stroke="#1a1a1a" stroke-width="0.2">1</text>
<text transform="translate(369.65 346.65) scale(1.0 1.0)" font-size="10" letter-spacing="0.35" fill="#1a1a1a" stroke="#1a1a1a" stroke-width="0.2">85</text>
<text transform="translate(444.32 346.65) scale(1.0 1.0)" font-size="10" letter-spacing="0.35" fill="#1a1a1a" stroke="#1a1a1a" stroke-width="0.2">91</text>
<text transform="translate(507.47 346.65) scale(1.0 1.0)" font-size="10" letter-spacing="0.35" fill="#1a1a1a" stroke="#1a1a1a" stroke-width="0.2">4.600</text>
<text transform="translate(593.34 346.65) scale(1.0 1.0)" font-size="10" letter-spacing="0.35" fill="#1a1a1a" stroke="#1a1a1a" stroke-width="0.2">405</text>
<text transform="translate(655.62 346.65) scale(1.0 1.0)" font-size="10" letter-spacing="0.35" fill="#1a1a1a" stroke="#1a1a1a" stroke-width="0.2">5.096</text>
<text transform="translate(755.93 346.65) scale(1.0 1.0)" font-size="10" letter-spacing="0.35" fill="#1a1a1a" stroke="#1a1a1a" stroke-width="0.2">4</text>
<text transform="translate(812.31 346.65) scale(1.0 1.0)" font-size="10" letter-spacing="0.35" fill="#1a1a1a" stroke="#1a1a1a" stroke-width="0.2">3.448</text>
<text transform="translate(889.71 346.65) scale(1.0 1.0)" font-size="10" letter-spacing="0.35" fill="#1a1a1a" stroke="#1a1a1a" stroke-width="0.2">1.648</text>
<text transform="translate(961.02 346.65) scale(1.0 1.0)" font-size="10" letter-spacing="0.35" fill="#1a1a1a" stroke="#1a1a1a" stroke-width="0.2">5.096</text>
<text transform="translate(1026.17 346.65) scale(1.0 1.0)" font-size="10" letter-spacing="0.35" fill="#1a1a1a" stroke="#1a1a1a" stroke-width="0.2">83.022</text>
<text transform="translate(1090.59 346.65) scale(1.0 1.0)" font-size="10" letter-spacing="0.35" fill="#1a1a1a" stroke="#1a1a1a" stroke-width="0.2">186.593</text>
<text transform="translate(1182.42 346.65) scale(1.0 1.0)" font-size="10" letter-spacing="0.35" fill="#1a1a1a" stroke="#1a1a1a" stroke-width="0.2">112</text>
<text transform="translate(32.94 361.72) scale(1.02 1.0)" font-size="10" fill="#1a1a1a" stroke="#1a1a1a" stroke-width="0.2">Sicilia</text>
<text transform="translate(219.72 361.17) scale(1.0 1.0)" font-size="10" letter-spacing="0.35" fill="#1a1a1a" stroke="#1a1a1a" stroke-width="0.2">70</text>
<text transform="translate(294.42 361.17) scale(1.0 1.0)" font-size="10" letter-spacing="0.35" fill="#1a1a1a" stroke="#1a1a1a" stroke-width="0.2">10</text>
<text transform="translate(354.7 361.17) scale(1.0 1.0)" font-size="10" letter-spacing="0.35" fill="#1a1a1a" stroke="#1a1a1a" stroke-width="0.2">1.045</text>
<text transform="translate(429.3 361.17) scale(1.0 1.0)" font-size="10" letter-spacing="0.35" fill="#1a1a1a" stroke="#1a1a1a" stroke-width="0.2">1.125</text>
<text transform="translate(507.52 361.17) scale(1.0 1.0)" font-size="10" letter-spacing="0.35" fill="#1a1a1a" stroke="#1a1a1a" stroke-width="0.2">2.906</text>
<text transform="translate(593.35 361.17) scale(1.0 1.0)" font-size="10" letter-spacing="0.35" fill="#1a1a1a" stroke="#1a1a1a" stroke-width="0.2">286</text>
<text transform="translate(655.68 361.17) scale(1.0 1.0)" font-size="10" letter-spacing="0.35" fill="#1a1a1a" stroke="#1a1a1a" stroke-width="0.2">4.317</text>
<text transform="translate(750.17 361.17) scale(1.0 1.0)" font-size="10" letter-spacing="0.35" fill="#1a1a1a" stroke="#1a1a1a" stroke-width="0.2">26</text>
<text transform="translate(812.38 361.17) scale(1.0 1.0)" font-size="10" letter-spacing="0.35" fill="#1a1a1a" stroke="#1a1a1a" stroke-width="0.2">3.162</text>
<text transform="translate(889.7 361.17) scale(1.0 1.0)" font-size="10" letter-spacing="0.35" fill="#1a1a1a" stroke="#1a1a1a" stroke-width="0.2">1.155</text>
<text transform="translate(961.08 361.17) scale(1.0 1.0)" font-size="10" letter-spacing="0.35" fill="#1a1a1a" stroke="#1a1a1a" stroke-width="0.2">4.317</text>
<text transform="translate(1020.19 361.17) scale(1.0 1.0)" font-size="10" letter-spacing="0.35" fill="#1a1a1a" stroke="#1a1a1a" stroke-width="0.2">267.086</text>
<text transform="translate(1090.66 361.17) scale(1.0 1.0)" font-size="10" letter-spacing="0.35" fill="#1a1a1a" stroke="#1a1a1a" stroke-width="0.2">347.662</text>
<text transform="translate(1173.3 361.17) scale(1.0 1.0)" font-size="10" letter-spacing="0.35" fill="#1a1a1a" stroke="#1a1a1a" stroke-width="0.2">1.315</text>
<text transform="translate(33.38 376.24) scale(1.02 1.0)" font-size="10" fill="#1a1a1a" stroke="#1a1a1a" stroke-width="0.2">Abruzzo</text>
<text transform="translate(219.75 375.69) scale(1.0 1.0)" font-size="10" letter-spacing="0.35" fill="#1a1a1a" stroke="#1a1a1a" stroke-width="0.2">35</text>
<text transform="translate(300.43 375.69) scale(1.0 1.0)" font-size="10" letter-spacing="0.35" fill="#1a1a1a" stroke="#1a1a1a" stroke-width="0.2">1</text>
<text transform="translate(363.8 375.69) scale(1.0 1.0)" font-size="10" letter-spacing="0.35" fill="#1a1a1a" stroke="#1a1a1a" stroke-width="0.2">391</text>
<text transform="translate(438.42 375.69) scale(1.0 1.0)" font-size="10" letter-spacing="0.35" fill="#1a1a1a" stroke="#1a1a1a" stroke-width="0.2">427</text>
<text transform="translate(507.51 375.69) scale(1.0 1.0)" font-size="10" letter-spacing="0.35" fill="#1a1a1a" stroke="#1a1a1a" stroke-width="0.2">2.878</text>
<text transform="translate(593.42 375.69) scale(1.0 1.0)" font-size="10" letter-spacing="0.35" fill="#1a1a1a" stroke="#1a1a1a" stroke-width="0.2">472</text>
<text transform="translate(655.68 375.69) scale(1.0 1.0)" font-size="10" letter-spacing="0.35" fill="#1a1a1a" stroke="#1a1a1a" stroke-width="0.2">3.777</text>
<text transform="translate(755.93 375.69) scale(1.0 1.0)" font-size="10" letter-spacing="0.35" fill="#1a1a1a" stroke="#1a1a1a" stroke-width="0.2">4</text>
<text transform="translate(812.36 375.69) scale(1.0 1.0)" font-size="10" letter-spacing="0.35" fill="#1a1a1a" stroke="#1a1a1a" stroke-width="0.2">3.331</text>
<text transform="translate(898.75 375.69) scale(1.0 1.0)" font-size="10" letter-spacing="0.35" fill="#1a1a1a" stroke="#1a1a1a" stroke-width="0.2">446</text>
<text transform="translate(961.08 375.69) scale(1.0 1.0)" font-size="10" letter-spacing="0.35" fill="#1a1a1a" stroke="#1a1a1a" stroke-width="0.2">3.777</text>
<text transform="translate(1020.19 375.69) scale(1.0 1.0)" font-size="10" letter-spacing="0.35" fill="#1a1a1a" stroke="#1a1a1a" stroke-width="0.2">101.993</text>
<text transform="translate(1090.57 375.69) scale(1.0 1.0)" font-size="10" letter-spacing="0.35" fill="#1a1a1a" stroke="#1a1a1a" stroke-width="0.2">157.035</text>
<text transform="translate(1182.4 375.69) scale(1.0 1.0)" font-size="10" letter-spacing="0.35" fill="#1a1a1a" stroke="#1a1a1a" stroke-width="0.2">261</text>
<text transform="translate(32.56 390.76) scale(1.02 1.0)" font-size="10" fill="#1a1a1a" stroke="#1a1a1a" stroke-width="0.2">Friuli Venezia Giulia</text>
<text transform="translate(219.77 390.21) scale(1.0 1.0)" font-size="10" letter-spacing="0.35" fill="#1a1a1a" stroke="#1a1a1a" stroke-width="0.2">13</text>
<text transform="translate(300.44 390.21) scale(1.0 1.0)" font-size="10" letter-spacing="0.35" fill="#1a1a1a" stroke="#1a1a1a" stroke-width="0.2">2</text>
<text transform="translate(363.71 390.21) scale(1.0 1.0)" font-size="10" letter-spacing="0.35" fill="#1a1a1a" stroke="#1a1a1a" stroke-width="0.2">350</text>
<text transform="translate(438.34 390.21) scale(1.0 1.0)" font-size="10" letter-spacing="0.35" fill="#1a1a1a" stroke="#1a1a1a" stroke-width="0.2">365</text>
<text transform="translate(507.52 390.21) scale(1.0 1.0)" font-size="10" letter-spacing="0.35" fill="#1a1a1a" stroke="#1a1a1a" stroke-width="0.2">3.056</text>
<text transform="translate(593.35 390.21) scale(1.0 1.0)" font-size="10" letter-spacing="0.35" fill="#1a1a1a" stroke="#1a1a1a" stroke-width="0.2">348</text>
<text transform="translate(655.65 390.21) scale(1.0 1.0)" font-size="10" letter-spacing="0.35" fill="#1a1a1a" stroke="#1a1a1a" stroke-width="0.2">3.769</text>
<text transform="translate(756.06 390.21) scale(1.0 1.0)" font-size="10" letter-spacing="0.35" fill="#1a1a1a" stroke="#1a1a1a" stroke-width="0.2">5</text>
<text transform="translate(812.27 390.21) scale(1.0 1.0)" font-size="10" letter-spacing="0.35" fill="#1a1a1a" stroke="#1a1a1a" stroke-width="0.2">3.640</text>
<text transform="translate(898.79 390.21) scale(1.0 1.0)" font-size="10" letter-spacing="0.35" fill="#1a1a1a" stroke="#1a1a1a" stroke-width="0.2">129</text>
<text transform="translate(961.05 390.21) scale(1.0 1.0)" font-size="10" letter-spacing="0.35" fill="#1a1a1a" stroke="#1a1a1a" stroke-width="0.2">3.769</text>
<text transform="translate(1020.14 390.21) scale(1.0 1.0)" font-size="10" letter-spacing="0.35" fill="#1a1a1a" stroke="#1a1a1a" stroke-width="0.2">152.510</text>
<text transform="translate(1090.66 390.21) scale(1.0 1.0)" font-size="10" letter-spacing="0.35" fill="#1a1a1a" stroke="#1a1a1a" stroke-width="0.2">325.992</text>
<text transform="translate(1182.42 390.21) scale(1.0 1.0)" font-size="10" letter-spacing="0.35" fill="#1a1a1a" stroke="#1a1a1a" stroke-width="0.2">717</text>
<text transform="translate(32.56 405.28) scale(1.02 1.0)" font-size="10" fill="#1a1a1a" stroke="#1a1a1a" stroke-width="0.2">P.A. Bolzano</text>
<text transform="translate(225.67 404.73) scale(1.0 1.0)" font-size="10" letter-spacing="0.35" fill="#1a1a1a" stroke="#1a1a1a" stroke-width="0.2">8</text>
<text transform="translate(300.44 404.73) scale(1.0 1.0)" font-size="10" letter-spacing="0.35" fill="#1a1a1a" stroke="#1a1a1a" stroke-width="0.2">2</text>
<text transform="translate(363.71 404.73) scale(1.0 1.0)" font-size="10" letter-spacing="0.35" fill="#1a1a1a" stroke="#1a1a1a" stroke-width="0.2">180</text>
<text transform="translate(438.31 404.73) scale(1.0 1.0)" font-size="10" letter-spacing="0.35" fill="#1a1a1a" stroke="#1a1a1a" stroke-width="0.2">190</text>
<text transform="translate(507.52 404.73) scale(1.0 1.0)" font-size="10" letter-spacing="0.35" fill="#1a1a1a" stroke="#1a1a1a" stroke-width="0.2">2.453</text>
<text transform="translate(593.42 404.73) scale(1.0 1.0)" font-size="10" letter-spacing="0.35" fill="#1a1a1a" stroke="#1a1a1a" stroke-width="0.2">292</text>
<text transform="translate(655.6 404.73) scale(1.0 1.0)" font-size="10" letter-spacing="0.35" fill="#1a1a1a" stroke="#1a1a1a" stroke-width="0.2">2.935</text>
<text transform="translate(756.08 404.73) scale(1.0 1.0)" font-size="10" letter-spacing="0.35" fill="#1a1a1a" stroke="#1a1a1a" stroke-width="0.2">3</text>
<text transform="translate(812.3 404.73) scale(1.0 1.0)" font-size="10" letter-spacing="0.35" fill="#1a1a1a" stroke="#1a1a1a" stroke-width="0.2">2.935</text>
<text transform="translate(910.53 404.73) scale(1.0 1.0)" font-size="10" letter-spacing="0.35" fill="#1a1a1a" stroke="#1a1a1a" stroke-width="0.2">0</text>
<text transform="translate(961 404.73) scale(1.0 1.0)" font-size="10" letter-spacing="0.35" fill="#1a1a1a" stroke="#1a1a1a" stroke-width="0.2">2.935</text>
<text transform="translate(1026.15 404.73) scale(1.0 1.0)" font-size="10" letter-spacing="0.35" fill="#1a1a1a" stroke="#1a1a1a" stroke-width="0.2">73.091</text>
<text transform="translate(1090.64 404.73) scale(1.0 1.0)" font-size="10" letter-spacing="0.35" fill="#1a1a1a" stroke="#1a1a1a" stroke-width="0.2">138.021</text>
<text transform="translate(1182.21 404.73) scale(1.0 1.0)" font-size="10" letter-spacing="0.35" fill="#1a1a1a" stroke="#1a1a1a" stroke-width="0.2">904</text>
<text transform="translate(32.94 419.8) scale(1.02 1.0)" font-size="10" fill="#1a1a1a" stroke="#1a1a1a" stroke-width="0.2">Sardegna</text>
<text transform="translate(219.76 419.25) scale(1.0 1.0)" font-size="10" letter-spacing="0.35" fill="#1a1a1a" stroke="#1a1a1a" stroke-width="0.2">28</text>
<text transform="translate(300.23 419.25) scale(1.0 1.0)" font-size="10" letter-spacing="0.35" fill="#1a1a1a" stroke="#1a1a1a" stroke-width="0.2">4</text>
<text transform="translate(363.82 419.25) scale(1.0 1.0)" font-size="10" letter-spacing="0.35" fill="#1a1a1a" stroke="#1a1a1a" stroke-width="0.2">757</text>
<text transform="translate(438.39 419.25) scale(1.0 1.0)" font-size="10" letter-spacing="0.35" fill="#1a1a1a" stroke="#1a1a1a" stroke-width="0.2">789</text>
<text transform="translate(507.47 419.25) scale(1.0 1.0)" font-size="10" letter-spacing="0.35" fill="#1a1a1a" stroke="#1a1a1a" stroke-width="0.2">1.270</text>
<text transform="translate(593.21 419.25) scale(1.0 1.0)" font-size="10" letter-spacing="0.35" fill="#1a1a1a" stroke="#1a1a1a" stroke-width="0.2">134</text>
<text transform="translate(655.62 419.25) scale(1.0 1.0)" font-size="10" letter-spacing="0.35" fill="#1a1a1a" stroke="#1a1a1a" stroke-width="0.2">2.193</text>
<text transform="translate(750.2 419.25) scale(1.0 1.0)" font-size="10" letter-spacing="0.35" fill="#1a1a1a" stroke="#1a1a1a" stroke-width="0.2">79</text>
<text transform="translate(812.17 419.25) scale(1.0 1.0)" font-size="10" letter-spacing="0.35" fill="#1a1a1a" stroke="#1a1a1a" stroke-width="0.2">1.574</text>
<text transform="translate(898.79 419.25) scale(1.0 1.0)" font-size="10" letter-spacing="0.35" fill="#1a1a1a" stroke="#1a1a1a" stroke-width="0.2">619</text>
<text transform="translate(961.02 419.25) scale(1.0 1.0)" font-size="10" letter-spacing="0.35" fill="#1a1a1a" stroke="#1a1a1a" stroke-width="0.2">2.193</text>
<text transform="translate(1020.26 419.25) scale(1.0 1.0)" font-size="10" letter-spacing="0.35" fill="#1a1a1a" stroke="#1a1a1a" stroke-width="0.2">115.112</text>
<text transform="translate(1090.66 419.25) scale(1.0 1.0)" font-size="10" letter-spacing="0.35" fill="#1a1a1a" stroke="#1a1a1a" stroke-width="0.2">135.617</text>
<text transform="translate(1173.32 419.25) scale(1.0 1.0)" font-size="10" letter-spacing="0.35" fill="#1a1a1a" stroke="#1a1a1a" stroke-width="0.2">1.083</text>
<text transform="translate(32.61 434.32) scale(1.02 1.0)" font-size="10" fill="#1a1a1a" stroke="#1a1a1a" stroke-width="0.2">Umbria</text>
<text transform="translate(219.72 433.77) scale(1.0 1.0)" font-size="10" letter-spacing="0.35" fill="#1a1a1a" stroke="#1a1a1a" stroke-width="0.2">10</text>
<text transform="translate(300.44 433.77) scale(1.0 1.0)" font-size="10" letter-spacing="0.35" fill="#1a1a1a" stroke="#1a1a1a" stroke-width="0.2">2</text>
<text transform="translate(363.75 433.77) scale(1.0 1.0)" font-size="10" letter-spacing="0.35" fill="#1a1a1a" stroke="#1a1a1a" stroke-width="0.2">256</text>
<text transform="translate(438.35 433.77) scale(1.0 1.0)" font-size="10" letter-spacing="0.35" fill="#1a1a1a" stroke="#1a1a1a" stroke-width="0.2">268</text>
<text transform="translate(507.5 433.77) scale(1.0 1.0)" font-size="10" letter-spacing="0.35" fill="#1a1a1a" stroke="#1a1a1a" stroke-width="0.2">1.445</text>
<text transform="translate(599.22 433.77) scale(1.0 1.0)" font-size="10" letter-spacing="0.35" fill="#1a1a1a" stroke="#1a1a1a" stroke-width="0.2">80</text>
<text transform="translate(655.62 433.77) scale(1.0 1.0)" font-size="10" letter-spacing="0.35" fill="#1a1a1a" stroke="#1a1a1a" stroke-width="0.2">1.793</text>
<text transform="translate(756.11 433.77) scale(1.0 1.0)" font-size="10" letter-spacing="0.35" fill="#1a1a1a" stroke="#1a1a1a" stroke-width="0.2">9</text>
<text transform="translate(812.31 433.77) scale(1.0 1.0)" font-size="10" letter-spacing="0.35" fill="#1a1a1a" stroke="#1a1a1a" stroke-width="0.2">1.518</text>
<text transform="translate(898.74 433.77) scale(1.0 1.0)" font-size="10" letter-spacing="0.35" fill="#1a1a1a" stroke="#1a1a1a" stroke-width="0.2">275</text>
<text transform="translate(961.02 433.77) scale(1.0 1.0)" font-size="10" letter-spacing="0.35" fill="#1a1a1a" stroke="#1a1a1a" stroke-width="0.2">1.793</text>
<text transform="translate(1026.08 433.77) scale(1.0 1.0)" font-size="10" letter-spacing="0.35" fill="#1a1a1a" stroke="#1a1a1a" stroke-width="0.2">95.705</text>
<text transform="translate(1090.64 433.77) scale(1.0 1.0)" font-size="10" letter-spacing="0.35" fill="#1a1a1a" stroke="#1a1a1a" stroke-width="0.2">154.171</text>
<text transform="translate(1182.34 433.77) scale(1.0 1.0)" font-size="10" letter-spacing="0.35" fill="#1a1a1a" stroke="#1a1a1a" stroke-width="0.2">505</text>
<text transform="translate(32.88 448.84) scale(1.02 1.0)" font-size="10" fill="#1a1a1a" stroke="#1a1a1a" stroke-width="0.2">Calabria</text>
<text transform="translate(219.82 448.29) scale(1.0 1.0)" font-size="10" letter-spacing="0.35" fill="#1a1a1a" stroke="#1a1a1a" stroke-width="0.2">21</text>
<text transform="translate(300.33 448.29) scale(1.0 1.0)" font-size="10" letter-spacing="0.35" fill="#1a1a1a" stroke="#1a1a1a" stroke-width="0.2">0</text>
<text transform="translate(363.61 448.29) scale(1.0 1.0)" font-size="10" letter-spacing="0.35" fill="#1a1a1a" stroke="#1a1a1a" stroke-width="0.2">224</text>
<text transform="translate(438.34 448.29) scale(1.0 1.0)" font-size="10" letter-spacing="0.35" fill="#1a1a1a" stroke="#1a1a1a" stroke-width="0.2">245</text>
<text transform="translate(507.55 448.29) scale(1.0 1.0)" font-size="10" letter-spacing="0.35" fill="#1a1a1a" stroke="#1a1a1a" stroke-width="0.2">1.149</text>
<text transform="translate(599.33 448.29) scale(1.0 1.0)" font-size="10" letter-spacing="0.35" fill="#1a1a1a" stroke="#1a1a1a" stroke-width="0.2">97</text>
<text transform="translate(655.66 448.29) scale(1.0 1.0)" font-size="10" letter-spacing="0.35" fill="#1a1a1a" stroke="#1a1a1a" stroke-width="0.2">1.491</text>
<text transform="translate(750.02 448.29) scale(1.0 1.0)" font-size="10" letter-spacing="0.35" fill="#1a1a1a" stroke="#1a1a1a" stroke-width="0.2">14</text>
<text transform="translate(812.35 448.29) scale(1.0 1.0)" font-size="10" letter-spacing="0.35" fill="#1a1a1a" stroke="#1a1a1a" stroke-width="0.2">1.159</text>
<text transform="translate(898.82 448.29) scale(1.0 1.0)" font-size="10" letter-spacing="0.35" fill="#1a1a1a" stroke="#1a1a1a" stroke-width="0.2">332</text>
<text transform="translate(961.06 448.29) scale(1.0 1.0)" font-size="10" letter-spacing="0.35" fill="#1a1a1a" stroke="#1a1a1a" stroke-width="0.2">1.491</text>
<text transform="translate(1020.24 448.29) scale(1.0 1.0)" font-size="10" letter-spacing="0.35" fill="#1a1a1a" stroke="#1a1a1a" stroke-width="0.2">153.811</text>
<text transform="translate(1090.57 448.29) scale(1.0 1.0)" font-size="10" letter-spacing="0.35" fill="#1a1a1a" stroke="#1a1a1a" stroke-width="0.2">155.845</text>
<text transform="translate(1182.35 448.29) scale(1.0 1.0)" font-size="10" letter-spacing="0.35" fill="#1a1a1a" stroke="#1a1a1a" stroke-width="0.2">926</text>
<text transform="translate(33.36 463.36) scale(1.02 1.0)" font-size="10" fill="#1a1a1a" stroke="#1a1a1a" stroke-width="0.2">Valle d&#39;Aosta</text>
<text transform="translate(225.74 462.81) scale(1.0 1.0)" font-size="10" letter-spacing="0.35" fill="#1a1a1a" stroke="#1a1a1a" stroke-width="0.2">2</text>
<text transform="translate(300.33 462.81) scale(1.0 1.0)" font-size="10" letter-spacing="0.35" fill="#1a1a1a" stroke="#1a1a1a" stroke-width="0.2">0</text>
<text transform="translate(369.7 462.81) scale(1.0 1.0)" font-size="10" letter-spacing="0.35" fill="#1a1a1a" stroke="#1a1a1a" stroke-width="0.2">29</text>
<text transform="translate(444.32 462.81) scale(1.0 1.0)" font-size="10" letter-spacing="0.35" fill="#1a1a1a" stroke="#1a1a1a" stroke-width="0.2">31</text>
<text transform="translate(507.37 462.81) scale(1.0 1.0)" font-size="10" letter-spacing="0.35" fill="#1a1a1a" stroke="#1a1a1a" stroke-width="0.2">1.064</text>
<text transform="translate(593.35 462.81) scale(1.0 1.0)" font-size="10" letter-spacing="0.35" fill="#1a1a1a" stroke="#1a1a1a" stroke-width="0.2">146</text>
<text transform="translate(655.66 462.81) scale(1.0 1.0)" font-size="10" letter-spacing="0.35" fill="#1a1a1a" stroke="#1a1a1a" stroke-width="0.2">1.241</text>
<text transform="translate(756.11 462.81) scale(1.0 1.0)" font-size="10" letter-spacing="0.35" fill="#1a1a1a" stroke="#1a1a1a" stroke-width="0.2">9</text>
<text transform="translate(812.3 462.81) scale(1.0 1.0)" font-size="10" letter-spacing="0.35" fill="#1a1a1a" stroke="#1a1a1a" stroke-width="0.2">1.115</text>
<text transform="translate(898.75 462.81) scale(1.0 1.0)" font-size="10" letter-spacing="0.35" fill="#1a1a1a" stroke="#1a1a1a" stroke-width="0.2">126</text>
<text transform="translate(961.06 462.81) scale(1.0 1.0)" font-size="10" letter-spacing="0.35" fill="#1a1a1a" stroke="#1a1a1a" stroke-width="0.2">1.241</text>
<text transform="translate(1026.17 462.81) scale(1.0 1.0)" font-size="10" letter-spacing="0.35" fill="#1a1a1a" stroke="#1a1a1a" stroke-width="0.2">17.602</text>
<text transform="translate(1096.5 462.81) scale(1.0 1.0)" font-size="10" letter-spacing="0.35" fill="#1a1a1a" stroke="#1a1a1a" stroke-width="0.2">24.893</text>
<text transform="translate(1182.31 462.81) scale(1.0 1.0)" font-size="10" letter-spacing="0.35" fill="#1a1a1a" stroke="#1a1a1a" stroke-width="0.2">110</text>
<text transform="translate(32.56 477.88) scale(1.02 1.0)" font-size="10" fill="#1a1a1a" stroke="#1a1a1a" stroke-width="0.2">Molise</text>
<text transform="translate(225.68 477.33) scale(1.0 1.0)" font-size="10" letter-spacing="0.35" fill="#1a1a1a" stroke="#1a1a1a" stroke-width="0.2">3</text>
<text transform="translate(300.33 477.33) scale(1.0 1.0)" font-size="10" letter-spacing="0.35" fill="#1a1a1a" stroke="#1a1a1a" stroke-width="0.2">0</text>
<text transform="translate(369.73 477.33) scale(1.0 1.0)" font-size="10" letter-spacing="0.35" fill="#1a1a1a" stroke="#1a1a1a" stroke-width="0.2">67</text>
<text transform="translate(444.22 477.33) scale(1.0 1.0)" font-size="10" letter-spacing="0.35" fill="#1a1a1a" stroke="#1a1a1a" stroke-width="0.2">70</text>
<text transform="translate(516.62 477.33) scale(1.0 1.0)" font-size="10" letter-spacing="0.35" fill="#1a1a1a" stroke="#1a1a1a" stroke-width="0.2">432</text>
<text transform="translate(599.27 477.33) scale(1.0 1.0)" font-size="10" letter-spacing="0.35" fill="#1a1a1a" stroke="#1a1a1a" stroke-width="0.2">23</text>
<text transform="translate(664.64 477.33) scale(1.0 1.0)" font-size="10" letter-spacing="0.35" fill="#1a1a1a" stroke="#1a1a1a" stroke-width="0.2">525</text>
<text transform="translate(756.03 477.33) scale(1.0 1.0)" font-size="10" letter-spacing="0.35" fill="#1a1a1a" stroke="#1a1a1a" stroke-width="0.2">0</text>
<text transform="translate(821.42 477.33) scale(1.0 1.0)" font-size="10" letter-spacing="0.35" fill="#1a1a1a" stroke="#1a1a1a" stroke-width="0.2">502</text>
<text transform="translate(904.67 477.33) scale(1.0 1.0)" font-size="10" letter-spacing="0.35" fill="#1a1a1a" stroke="#1a1a1a" stroke-width="0.2">23</text>
<text transform="translate(970.04 477.33) scale(1.0 1.0)" font-size="10" letter-spacing="0.35" fill="#1a1a1a" stroke="#1a1a1a" stroke-width="0.2">525</text>
<text transform="translate(1025.96 477.33) scale(1.0 1.0)" font-size="10" letter-spacing="0.35" fill="#1a1a1a" stroke="#1a1a1a" stroke-width="0.2">32.364</text>
<text transform="translate(1096.5 477.33) scale(1.0 1.0)" font-size="10" letter-spacing="0.35" fill="#1a1a1a" stroke="#1a1a1a" stroke-width="0.2">33.593</text>
<text transform="translate(1182.31 477.33) scale(1.0 1.0)" font-size="10" letter-spacing="0.35" fill="#1a1a1a" stroke="#1a1a1a" stroke-width="0.2">210</text>
<text transform="translate(32.56 492.4) scale(1.02 1.0)" font-size="10" fill="#1a1a1a" stroke="#1a1a1a" stroke-width="0.2">Basilicata</text>
<text transform="translate(225.73 491.85) scale(1.0 1.0)" font-size="10" letter-spacing="0.35" fill="#1a1a1a" stroke="#1a1a1a" stroke-width="0.2">1</text>
<text transform="translate(300.43 491.85) scale(1.0 1.0)" font-size="10" letter-spacing="0.35" fill="#1a1a1a" stroke="#1a1a1a" stroke-width="0.2">1</text>
<text transform="translate(369.67 491.85) scale(1.0 1.0)" font-size="10" letter-spacing="0.35" fill="#1a1a1a" stroke="#1a1a1a" stroke-width="0.2">86</text>
<text transform="translate(444.26 491.85) scale(1.0 1.0)" font-size="10" letter-spacing="0.35" fill="#1a1a1a" stroke="#1a1a1a" stroke-width="0.2">88</text>
<text transform="translate(516.55 491.85) scale(1.0 1.0)" font-size="10" letter-spacing="0.35" fill="#1a1a1a" stroke="#1a1a1a" stroke-width="0.2">408</text>
<text transform="translate(599.26 491.85) scale(1.0 1.0)" font-size="10" letter-spacing="0.35" fill="#1a1a1a" stroke="#1a1a1a" stroke-width="0.2">28</text>
<text transform="translate(664.51 491.85) scale(1.0 1.0)" font-size="10" letter-spacing="0.35" fill="#1a1a1a" stroke="#1a1a1a" stroke-width="0.2">524</text>
<text transform="translate(756.03 491.85) scale(1.0 1.0)" font-size="10" letter-spacing="0.35" fill="#1a1a1a" stroke="#1a1a1a" stroke-width="0.2">0</text>
<text transform="translate(821.34 491.85) scale(1.0 1.0)" font-size="10" letter-spacing="0.35" fill="#1a1a1a" stroke="#1a1a1a" stroke-width="0.2">405</text>
<text transform="translate(898.79 491.85) scale(1.0 1.0)" font-size="10" letter-spacing="0.35" fill="#1a1a1a" stroke="#1a1a1a" stroke-width="0.2">119</text>
<text transform="translate(969.91 491.85) scale(1.0 1.0)" font-size="10" letter-spacing="0.35" fill="#1a1a1a" stroke="#1a1a1a" stroke-width="0.2">524</text>
<text transform="translate(1026.17 491.85) scale(1.0 1.0)" font-size="10" letter-spacing="0.35" fill="#1a1a1a" stroke="#1a1a1a" stroke-width="0.2">55.487</text>
<text transform="translate(1096.57 491.85) scale(1.0 1.0)" font-size="10" letter-spacing="0.35" fill="#1a1a1a" stroke="#1a1a1a" stroke-width="0.2">56.277</text>
<text transform="translate(1182.35 491.85) scale(1.0 1.0)" font-size="10" letter-spacing="0.35" fill="#1a1a1a" stroke="#1a1a1a" stroke-width="0.2">276</text>
<text transform="translate(204.88 510.2) scale(1.0 0.97)" font-size="10" font-weight="bold" letter-spacing="0.3" fill="#111" stroke="#111" stroke-width="0.12">1.288</text>
<text transform="translate(294.13 510.2) scale(1.0 0.97)" font-size="10" font-weight="bold" letter-spacing="0.3" fill="#111" stroke="#111" stroke-width="0.12">94</text>
<text transform="translate(348.98 510.2) scale(1.0 0.97)" font-size="10" font-weight="bold" letter-spacing="0.3" fill="#111" stroke="#111" stroke-width="0.12">24.696</text>
<text transform="translate(423.52 510.2) scale(1.0 0.97)" font-size="10" font-weight="bold" letter-spacing="0.3" fill="#111" stroke="#111" stroke-width="0.12">26.078</text>
<text transform="translate(495.91 510.2) scale(1.0 0.97)" font-size="10" font-weight="bold" letter-spacing="0.3" fill="#04240d" stroke="#04240d" stroke-width="0.12">207.653</text>
<text transform="translate(578.58 510.2) scale(1.0 0.97)" font-size="10" font-weight="bold" letter-spacing="0.3" fill="#4a0000" stroke="#4a0000" stroke-width="0.12">35.483</text>
<text transform="translate(643.71 510.2) scale(1.0 0.97)" font-size="10" font-weight="bold" letter-spacing="0.3" fill="#111" stroke="#111" stroke-width="0.12">269.214</text>
<text transform="translate(744.28 510.2) scale(1.0 0.97)" font-size="10" font-weight="bold" letter-spacing="0.3" fill="#111" stroke="#111" stroke-width="0.12">996</text>
<text transform="translate(800.75 510.2) scale(1.0 0.97)" font-size="10" font-weight="bold" letter-spacing="0.3" fill="#111" stroke="#111" stroke-width="0.12">229.832</text>
<text transform="translate(884.01 510.2) scale(1.0 0.97)" font-size="10" font-weight="bold" letter-spacing="0.3" fill="#111" stroke="#111" stroke-width="0.12">39.382</text>
<text transform="translate(949.11 510.2) scale(1.0 0.97)" font-size="10" font-weight="bold" letter-spacing="0.3" fill="#111" stroke="#111" stroke-width="0.12">269.214</text>
<text transform="translate(1011.39 510.2) scale(1.0 0.97)" font-size="10" font-weight="bold" letter-spacing="0.3" fill="#111" stroke="#111" stroke-width="0.12">5.160.371</text>
<text transform="translate(1081.88 510.2) scale(1.0 0.97)" font-size="10" font-weight="bold" letter-spacing="0.3" fill="#111" stroke="#111" stroke-width="0.12">8.644.859</text>
<text transform="translate(1167.52 510.2) scale(1.0 0.97)" font-size="10" font-weight="bold" letter-spacing="0.3" fill="#111" stroke="#111" stroke-width="0.12">58.518</text>
<rect x="29" y="112.95" width="1173.4" height="1.3" fill="#2a2a2a"/>
<rect x="158.6" y="134.4" width="299.8" height="1.2" fill="#2a2a2a"/>
<rect x="29" y="189.8" width="1173.4" height="1.2" fill="#1e1e1e"/>
<rect x="29" y="204.32" width="1173.4" height="1.2" fill="#333"/>
<rect x="29" y="218.84" width="1173.4" height="1.2" fill="#333"/>
<rect x="29" y="233.36" width="1173.4" height="1.2" fill="#333"/>
<rect x="29" y="247.88" width="1173.4" height="1.2" fill="#333"/>
<rect x="29" y="262.4" width="1173.4" height="1.2" fill="#333"/>
<rect x="29" y="276.92" width="1173.4" height="1.2" fill="#333"/>
<rect x="29" y="291.44" width="1173.4" height="1.2" fill="#333"/>
<rect x="29" y="305.96" width="1173.4" height="1.2" fill="#333"/>
<rect x="29" y="320.48" width="1173.4" height="1.2" fill="#333"/>
<rect x="29" y="335" width="1173.4" height="1.2" fill="#333"/>
<rect x="29" y="349.52" width="1173.4" height="1.2" fill="#333"/>
<rect x="29" y="364.04" width="1173.4" height="1.2" fill="#333"/>
<rect x="29" y="378.56" width="1173.4" height="1.2" fill="#333"/>
<rect x="29" y="393.08" width="1173.4" height="1.2" fill="#333"/>
<rect x="29" y="407.6" width="1173.4" height="1.2" fill="#333"/>
<rect x="29" y="422.12" width="1173.4" height="1.2" fill="#333"/>
<rect x="29" y="436.64" width="1173.4" height="1.2" fill="#333"/>
<rect x="29" y="451.16" width="1173.4" height="1.2" fill="#333"/>
<rect x="29" y="465.68" width="1173.4" height="1.2" fill="#333"/>
<rect x="29" y="480.2" width="1173.4" height="1.2" fill="#333"/>
<rect x="29" y="494.72" width="1173.4" height="1.2" fill="#2a2a2a"/>
<rect x="29" y="516.6" width="1173.4" height="1.4" fill="#2a2a2a"/>
<rect x="28.3" y="113" width="1.4" height="405" fill="#333"/>
<rect x="157.97" y="113" width="1.25" height="405" fill="#333"/>
<rect x="233.28" y="134.4" width="1.25" height="383.6" fill="#333"/>
<rect x="307.98" y="134.4" width="1.25" height="383.6" fill="#333"/>
<rect x="383.18" y="134.4" width="1.25" height="383.6" fill="#333"/>
<rect x="457.77" y="113" width="1.25" height="405" fill="#333"/>
<rect x="535.98" y="113" width="1.25" height="405" fill="#333"/>
<rect x="612.77" y="113" width="1.25" height="405" fill="#333"/>
<rect x="684.08" y="113" width="1.25" height="405" fill="#333"/>
<rect x="763.3" y="113" width="2" height="405" fill="#0a0a0a"/>
<rect x="840.77" y="113" width="1.25" height="405" fill="#333"/>
<rect x="918.17" y="113" width="1.25" height="405" fill="#333"/>
<rect x="989.1" y="113" width="2" height="405" fill="#0a0a0a"/>
<rect x="1060.47" y="113" width="1.25" height="405" fill="#333"/>
<rect x="1130.88" y="113" width="1.25" height="405" fill="#333"/>
<rect x="1201.7" y="113" width="1.4" height="405" fill="#333"/>
</svg></body></html>
